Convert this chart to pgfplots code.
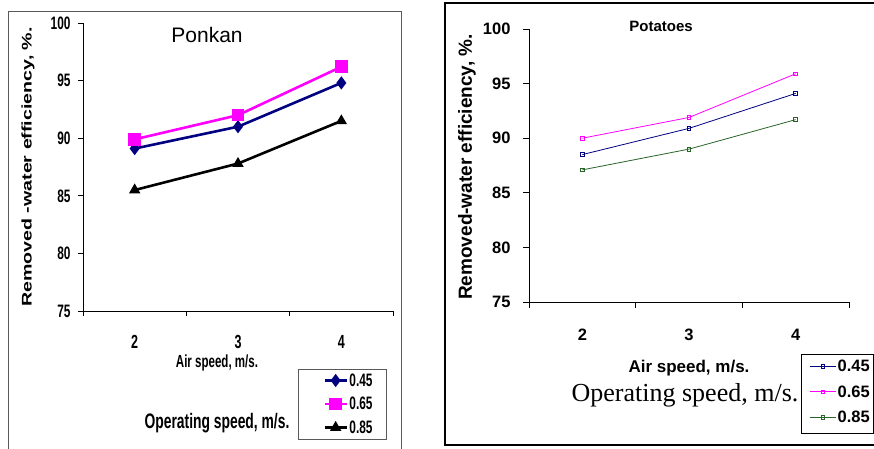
\documentclass[border=0pt]{standalone}
\usepackage{pgfplots}
\pgfplotsset{compat=1.18}
\usepackage{fontspec}
\setmainfont{Liberation Sans}
\newfontfamily\narrowsans[FakeStretch=0.66]{Liberation Sans}
\newfontfamily\widesans[FakeStretch=1.4]{Liberation Sans}
\newfontfamily\serifmain{Liberation Serif}
\definecolor{navyc}{RGB}{0,0,128}
\definecolor{magc}{RGB}{255,0,255}
\definecolor{greenc}{RGB}{40,100,40}

\begin{document}
\begin{tikzpicture}
\path[use as bounding box] (0pt,0pt) rectangle (874pt,448pt);
% panel frames
\draw[gray!70!black, line width=0.8pt] (8pt,-5pt) -- (8pt,437pt) -- (401pt,437pt) -- (401pt,-5pt);
\draw[black, line width=1.3pt] (880pt,3pt) -- (445pt,3pt) -- (445pt,445pt) -- (880pt,445pt);

% ---- Ponkan ----
\begin{axis}[
  at={(83pt,137pt)}, anchor=south west, scale only axis,
  width=310pt, height=288pt,
  xmin=1.5, xmax=4.5, ymin=75, ymax=100,
  xtick={1.5,2.5,3.5,4.5}, xticklabels={2,3,4}, x tick label as interval,
  ytick={75,80,...,100},
  axis x line*=bottom, axis y line*=left,
  axis line style={-, black, line width=0.9pt},
  tick align=outside, major tick length=5pt,
  tick style={black, line width=0.9pt},
  /pgf/number format/assume math mode=true,
  xticklabel style={font=\narrowsans\bfseries\fontsize{19}{19}\selectfont, anchor=center, yshift=-26pt},
  yticklabel style={font=\narrowsans\bfseries\fontsize{18}{18}\selectfont, anchor=east, xshift=-4pt},
  legend style={draw=none, fill=none, at={(rel axis cs:0.765,-0.205)}, anchor=north west,
    font=\narrowsans\bfseries\fontsize{18}{18}\selectfont, row sep=7pt,
    nodes={inner sep=1.5pt, text height=12.5pt, text depth=1pt}},
  legend cell align=left,
  legend image code/.code={\draw[mark repeat=2, mark phase=2] plot coordinates {(0pt,0pt) (11pt,0pt) (22pt,0pt)};},
]
\addplot[navyc, line width=2.6pt, mark=diamond*, mark size=4.5pt] coordinates {(2,89.1) (3,91.0) (4,94.8)};
\addplot[magc, line width=2.6pt, mark=square*, mark size=5pt] coordinates {(2,89.9) (3,92.0) (4,96.2)};
\addplot[black, line width=2.6pt, mark=triangle*, mark size=4pt] coordinates {(2,85.5) (3,87.8) (4,91.5)};
\legend{0.45,0.65,0.85}
\end{axis}
\draw[gray!70!black, line width=0.8pt] (298pt,79pt) rectangle (386pt,9pt);
\node[font=\fontsize{21}{21}\selectfont] at (207pt,413pt) {Ponkan};
\node[rotate=90, font=\widesans\bfseries\fontsize{14}{14}\selectfont] at (28pt,281pt) {Removed -water efficiency, \%.};
\node[font=\narrowsans\bfseries\fontsize{17.5}{17.5}\selectfont] at (217pt,85pt) {Air speed, m/s.};
\node[font=\narrowsans\bfseries\fontsize{21}{21}\selectfont] at (217pt,25pt) {Operating speed, m/s.};

% ---- Potatoes ----
\begin{axis}[
  at={(529pt,146pt)}, anchor=south west, scale only axis,
  width=320pt, height=273pt,
  xmin=1.5, xmax=4.5, ymin=75, ymax=100,
  xtick={1.5,2.5,3.5,4.5}, xticklabels={2,3,4}, x tick label as interval,
  ytick={75,80,...,100},
  axis x line*=bottom, axis y line*=left,
  axis line style={-, black, line width=1pt},
  tick align=outside, major tick length=6pt,
  tick style={black, line width=1pt},
  /pgf/number format/assume math mode=true,
  xticklabel style={font=\bfseries\fontsize{16.5}{16.5}\selectfont, anchor=center, yshift=-27pt},
  yticklabel style={font=\bfseries\fontsize{16.5}{16.5}\selectfont, anchor=east, xshift=-9pt},
  legend style={draw=none, fill=none, at={(rel axis cs:0.866,-0.198)}, anchor=north west,
    font=\bfseries\fontsize{16.5}{16.5}\selectfont, row sep=9.5pt,
    nodes={inner sep=1.5pt, text height=12pt, text depth=1pt}},
  legend cell align=left,
  legend image code/.code={\draw[mark repeat=2, mark phase=2] plot coordinates {(0pt,0pt) (13pt,0pt) (26pt,0pt)};},
]
\addplot[navyc, line width=0.8pt, mark=square, mark size=1.8pt] coordinates {(2,88.5) (3,90.9) (4,94.1)};
\addplot[magc, line width=0.8pt, mark=square, mark size=1.8pt] coordinates {(2,90.0) (3,91.9) (4,95.9)};
\addplot[greenc, line width=0.8pt, mark=square, mark size=1.8pt] coordinates {(2,87.1) (3,89.0) (4,91.7)};
\legend{0.45,0.65,0.85}
\end{axis}
\draw[black, line width=1pt] (801pt,94pt) rectangle (873pt,15pt);
\node[font=\bfseries\fontsize{15}{15}\selectfont] at (661pt,422pt) {Potatoes};
\node[rotate=90, font=\bfseries\fontsize{19}{19}\selectfont] at (467pt,281pt) {Removed-water efficiency, \%.};
\node[font=\bfseries\fontsize{17}{17}\selectfont] at (689pt,80pt) {Air speed, m/s.};
\node[font=\serifmain\fontsize{26}{26}\selectfont] at (685pt,53pt) {Operating speed, m/s.};
\end{tikzpicture}
\end{document}
